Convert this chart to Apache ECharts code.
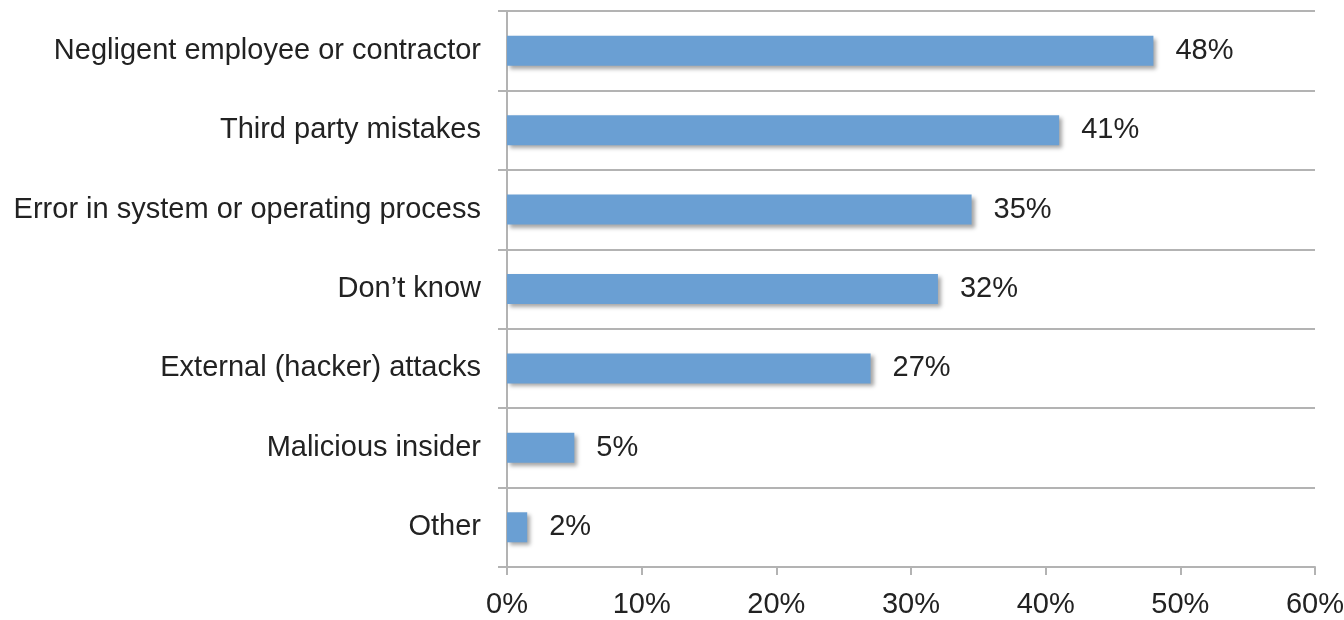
<!DOCTYPE html>
<html>
<head>
<meta charset="utf-8">
<script src="https://cdn.jsdelivr.net/npm/echarts@6/dist/echarts.min.js"></script>
<style>
  html, body { margin: 0; padding: 0; background: #fff; }
  #chart { width: 1344px; height: 620px; }
</style>
</head>
<body>
<div id="chart"></div>
<script>
// categories listed top to bottom
const categories = [
  "Negligent employee or contractor",
  "Third party mistakes",
  "Error in system or operating process",
  "Don\u2019t know",
  "External (hacker) attacks",
  "Malicious insider",
  "Other"
];
const values = [48, 41, 34.5, 32, 27, 5, 1.5];
const valueLabels = ["48%", "41%", "35%", "32%", "27%", "5%", "2%"];
const xTicks = [0, 10, 20, 30, 40, 50, 60];

const lineColor = "#b3b3b3";
const font = "Liberation Sans, Arial, Helvetica, sans-serif";

const chart = echarts.init(document.getElementById("chart"));
chart.setOption({
  backgroundColor: "#fff",
  animation: false,
  grid: { left: 507, right: 29, top: 11, bottom: 53, outerBoundsMode: "none", containLabel: false },
  xAxis: {
    type: "value",
    min: xTicks[0],
    max: xTicks[xTicks.length - 1],
    interval: 10,
    axisLine: { show: true, lineStyle: { color: lineColor, width: 2 } },
    axisTick: { show: true, length: 8, lineStyle: { color: lineColor, width: 2 } },
    splitLine: { show: false },
    axisLabel: {
      formatter: "{value}%",
      color: "#222",
      fontSize: 29,
      fontFamily: font,
      margin: 23
    }
  },
  yAxis: {
    type: "category",
    data: categories,
    inverse: true,
    axisLine: { show: true, lineStyle: { color: lineColor, width: 2 } },
    axisTick: { show: true, length: 9, lineStyle: { color: lineColor, width: 2 } },
    splitLine: { show: true, lineStyle: { color: lineColor, width: 2 } },
    axisLabel: {
      color: "#222",
      fontSize: 29,
      fontFamily: font,
      margin: 26,
      padding: [8, 0, 0, 0]
    }
  },
  series: [{
    type: "bar",
    data: values,
    barWidth: 30,
    itemStyle: {
      color: "#6a9fd3",
      shadowColor: "rgba(0,0,0,0.35)",
      shadowBlur: 4,
      shadowOffsetX: 3,
      shadowOffsetY: 3
    },
    label: {
      show: true,
      position: "right",
      distance: 22,
      color: "#222",
      fontSize: 29,
      fontFamily: font,
      padding: [8, 0, 0, 0],
      formatter: p => valueLabels[p.dataIndex]
    }
  }]
});
</script>
</body>
</html>
